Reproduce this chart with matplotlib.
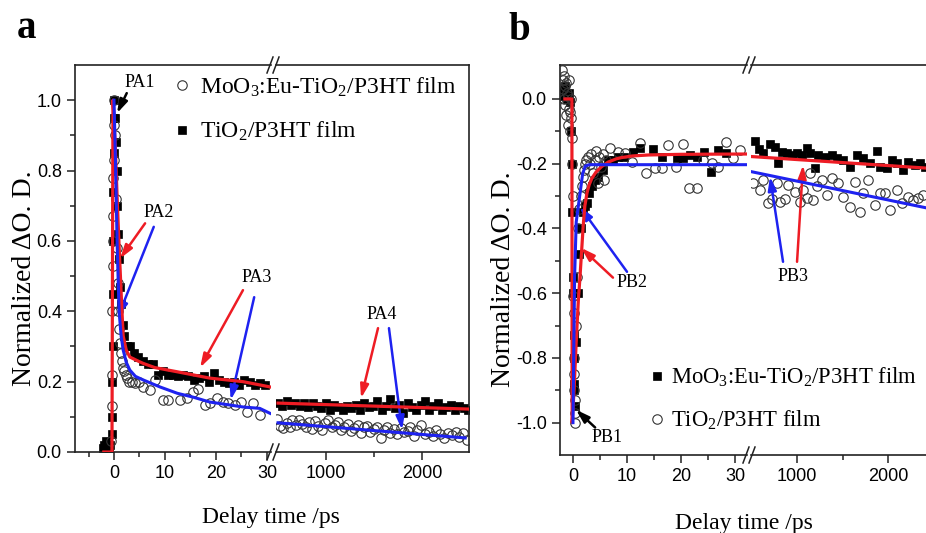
import matplotlib
matplotlib.use("Agg")
import matplotlib.pyplot as plt
from matplotlib.lines import Line2D

plt.rcParams['font.family'] = 'Liberation Serif'
plt.rcParams['mathtext.fontset'] = 'custom'
plt.rcParams['mathtext.rm'] = 'Liberation Serif'
plt.rcParams['mathtext.default'] = 'regular'

# ---------------- panel a data ----------------
# short delay window (ps)
A_SQ_T = [-2.2, -1.9, -1.6, -1.3, -1.0, -0.7, -0.4, -0.35, -0.3, -0.25, -0.2, -0.15, -0.1,
          -0.05, 0.0, 0.05, 0.2, 0.35, 0.5, 0.65, 0.8, 1.0, 1.2, 1.4, 1.7, 2.0, 2.5, 3.1,
          4.0, 4.7, 5.7, 6.7, 7.6, 8.6, 9.6, 10.6, 11.6, 12.6, 13.6, 14.6, 15.6, 16.6,
          17.6, 18.6, 19.6, 20.6, 21.6, 22.6, 23.6, 24.6, 25.6, 26.6, 27.6, 28.6, 29.6]
A_SQ_Y = [0.01, 0.02, 0.03, 0.02, 0.01, 0.02, 0.05, 0.1, 0.2, 0.3, 0.45, 0.6, 0.74,
          0.85, 0.95, 1.0, 0.95, 0.88, 0.8, 0.7, 0.62, 0.55, 0.47, 0.42, 0.36, 0.33, 0.3, 0.3,
          0.28, 0.27, 0.26, 0.25, 0.25, 0.22, 0.23, 0.22, 0.22, 0.215, 0.22, 0.215, 0.205, 0.21,
          0.215, 0.2, 0.225, 0.205, 0.2, 0.195, 0.2, 0.19, 0.205, 0.2, 0.19, 0.195, 0.19]
A_CIR_T = [-0.5, -0.45, -0.4, -0.3, -0.25, -0.2, -0.15, -0.1, -0.05, 0.0, 0.05, 0.25, 0.4,
           0.55, 0.7, 0.85, 1.0, 1.2, 1.4, 1.6, 1.8, 2.0, 2.3, 2.6, 3.0, 3.5, 4.2, 5.0, 5.7,
           7.1, 8.0, 9.6, 10.6, 12.9, 14.3, 15.5, 16.5, 17.8, 18.8, 20.2, 21.4, 22.4, 23.7,
           25.0, 26.0, 27.3, 28.6]
A_CIR_Y = [0.03, 0.13, 0.22, 0.4, 0.53, 0.6, 0.67, 0.78, 0.83, 0.93, 1.0, 0.9, 0.72,
           0.58, 0.48, 0.4, 0.35, 0.31, 0.28, 0.26, 0.24, 0.23, 0.22, 0.21, 0.2, 0.2, 0.195, 0.2,
           0.185, 0.176, 0.205, 0.148, 0.148, 0.148, 0.153, 0.17, 0.18, 0.134, 0.139, 0.153,
           0.142, 0.139, 0.134, 0.142, 0.113, 0.139, 0.105]
A_RED_T = [-2.0, -0.4, -0.3, -0.2, 0.0, 0.3, 0.6, 0.9, 1.2, 1.5, 1.8, 2.4, 3.1, 4.5, 5.7,
           8.0, 12.4, 18.8, 25.3, 30.6]
A_RED_Y = [0.0, 0.0, 0.5, 1.0, 0.95, 0.85, 0.73, 0.62, 0.52, 0.42, 0.33, 0.29, 0.27, 0.26,
           0.252, 0.24, 0.228, 0.21, 0.2, 0.185]
A_BLUE_T = [0.0, 0.3, 0.6, 1.0, 1.4, 1.8, 2.4, 3.1, 4.2, 5.7, 9.0, 12.4, 15.5, 18.8, 25.3,
            28.6, 30.6]
A_BLUE_Y = [1.0, 0.82, 0.6, 0.4, 0.33, 0.29, 0.255, 0.233, 0.215, 0.205, 0.185, 0.167, 0.156,
            0.142, 0.128, 0.124, 0.11]
# long delay window (ps)
A_R_SQ_T = [500, 545, 590, 635, 680, 725, 770, 815, 860, 905, 950, 995, 1040, 1085, 1130,
            1175, 1220, 1265, 1310, 1355, 1400, 1445, 1490, 1535, 1580, 1625, 1670, 1715,
            1760, 1805, 1850, 1895, 1940, 1985, 2030, 2075, 2120, 2165, 2210, 2255, 2300,
            2345, 2390, 2435, 2480]
A_R_SQ_Y = [0.14, 0.13, 0.145, 0.135, 0.14, 0.13, 0.138, 0.128, 0.14, 0.132, 0.125, 0.138,
            0.12, 0.135, 0.128, 0.118, 0.13, 0.125, 0.135, 0.12, 0.14, 0.128, 0.132, 0.145,
            0.118, 0.13, 0.15, 0.125, 0.135, 0.112, 0.14, 0.128, 0.12, 0.135, 0.145, 0.118,
            0.13, 0.14, 0.12, 0.128, 0.135, 0.118, 0.13, 0.125, 0.12]
A_R_CIR_T = [490, 520, 555, 590, 620, 650, 690, 720, 750, 790, 820, 850, 890, 920, 960, 990,
             1020, 1060, 1090, 1120, 1160, 1190, 1230, 1260, 1290, 1330, 1360, 1400, 1430,
             1460, 1500, 1530, 1570, 1600, 1640, 1670, 1710, 1740, 1780, 1810, 1850, 1880,
             1920, 1950, 1990, 2030, 2070, 2110, 2150, 2190, 2230, 2270, 2310, 2350, 2390,
             2430, 2470]
A_R_CIR_Y = [0.095, 0.075, 0.068, 0.082, 0.07, 0.09, 0.078, 0.092, 0.08, 0.072, 0.085, 0.066,
             0.088, 0.075, 0.062, 0.082, 0.09, 0.07, 0.078, 0.085, 0.062, 0.072, 0.08, 0.06,
             0.068, 0.078, 0.055, 0.07, 0.075, 0.058, 0.065, 0.072, 0.04, 0.062, 0.07, 0.055,
             0.065, 0.05, 0.068, 0.058, 0.06, 0.072, 0.045, 0.062, 0.078, 0.05, 0.058, 0.045,
             0.062, 0.05, 0.04, 0.055, 0.048, 0.058, 0.042, 0.055, 0.035]
A_R_RED_T = [500, 2490]
A_R_RED_Y = [0.139, 0.122]
A_R_BLUE_T = [500, 2450]
A_R_BLUE_Y = [0.083, 0.04]

# ---------------- panel b data ----------------
B_SQ_T = [-2.0, -1.7, -1.4, -1.1, -0.8, -0.5, -0.3, -0.2, -0.1, 0.0, 0.05, 0.1, 0.15, 0.2,
          0.25, 0.3, 0.6, 0.9, 1.2, 1.5, 1.9, 2.2, 2.6, 3.0, 3.5, 4.0, 4.6, 5.6, 6.5, 7.4,
          8.3, 9.5, 11.1, 12.4, 14.8, 16.4, 19.2, 20.3, 21.7, 22.9, 24.2, 25.6, 26.9, 28.3]
B_SQ_Y = [0.03, 0.01, 0.04, 0.0, 0.02, -0.01, -0.1, -0.2, -0.35, -0.55, -0.6, -0.73, -0.8,
          -0.88, -0.9, -0.95, -0.75, -0.6, -0.48, -0.4, -0.35, -0.33, -0.32, -0.29, -0.27,
          -0.25, -0.24, -0.22, -0.19, -0.188, -0.18, -0.18, -0.164, -0.151, -0.154, -0.178,
          -0.183, -0.183, -0.173, -0.178, -0.163, -0.225, -0.157, -0.166]
B_CIR_T = [-2.0, -1.9, -1.8, -1.7, -1.6, -1.5, -1.4, -1.3, -1.2, -1.1, -1.0, -0.9, -0.8, -0.7,
           -0.6, -0.5, -0.4, -0.3, -0.2, -0.1, 0.0, 0.05, 0.1, 0.15, 0.2, 0.25, 0.3, 0.35, 0.4,
           0.6, 0.8, 1.0, 1.2, 1.4, 1.6, 1.8, 2.0, 2.2, 2.5, 2.8, 3.1, 3.4, 3.7, 4.0, 4.3, 4.6,
           4.9, 5.2, 5.5, 5.8, 6.2, 6.9, 8.4, 9.6, 10.9, 12.4, 13.6, 15.2, 16.4, 17.6, 19.0,
           20.3, 21.5, 22.9, 24.1, 25.7, 26.9, 28.3, 29.7, 30.9]
B_CIR_Y = [0.09, 0.06, 0.03, 0.07, 0.0, 0.04, -0.02, 0.05, -0.05, 0.02, -0.08, 0.01, -0.03,
           0.06, -0.1, -0.04, 0.0, -0.06, -0.12, -0.2, -0.3, -0.61, -0.66, -0.8, -0.85, -0.9,
           -0.93, -0.97, -1.0, -0.7, -0.55, -0.4, -0.34, -0.3, -0.27, -0.24, -0.22, -0.2,
           -0.19, -0.18, -0.2, -0.17, -0.23, -0.19, -0.16, -0.26, -0.18, -0.21, -0.17, -0.25,
           -0.19, -0.152, -0.163, -0.167, -0.194, -0.136, -0.229, -0.213, -0.213, -0.142,
           -0.21, -0.139, -0.275, -0.275, -0.188, -0.198, -0.21, -0.133, -0.182, -0.157]
B_RED_T = [-1.5, -0.2, -0.15, 0.2, 0.6, 1.0, 1.3, 1.6, 1.9, 2.2, 2.6, 3.0, 3.5, 4.3, 5.3,
           6.5, 8.0, 9.0, 11.0, 14.0, 20.0, 32.0]
B_RED_Y = [0.0, 0.0, -1.0, -0.9, -0.75, -0.62, -0.55, -0.47, -0.39, -0.33, -0.29, -0.265,
           -0.245, -0.225, -0.209, -0.195, -0.185, -0.181, -0.176, -0.173, -0.171, -0.17]
B_BLUE_T = [0.0, 0.3, 0.6, 1.0, 1.4, 1.8, 2.3, 3.0, 32.0]
B_BLUE_Y = [-1.0, -0.55, -0.38, -0.33, -0.28, -0.23, -0.207, -0.203, -0.203]
B_R_SQ_T = [538, 582, 626, 703, 758, 791, 835, 890, 945, 1000, 1055, 1110, 1143, 1198,
            1231, 1308, 1385, 1440, 1505, 1582, 1659, 1725, 1802, 1879, 1912, 1989, 2044,
            2099, 2165, 2220, 2297, 2352, 2407]
B_R_SQ_Y = [-0.13, -0.155, -0.167, -0.139, -0.148, -0.197, -0.163, -0.167, -0.173, -0.167,
            -0.173, -0.151, -0.167, -0.213, -0.173, -0.179, -0.173, -0.182, -0.188, -0.21,
            -0.173, -0.182, -0.198, -0.16, -0.21, -0.213, -0.188, -0.198, -0.219, -0.194,
            -0.204, -0.198, -0.21]
B_R_CIR_T = [517, 593, 626, 681, 725, 780, 813, 868, 901, 978, 1033, 1066, 1110, 1143, 1176,
             1220, 1275, 1330, 1385, 1451, 1505, 1582, 1637, 1692, 1725, 1780, 1857, 1912,
             1967, 2022, 2099, 2154, 2220, 2275, 2330, 2385]
B_R_CIR_Y = [-0.26, -0.28, -0.25, -0.32, -0.31, -0.26, -0.318, -0.31, -0.265, -0.287, -0.318,
             -0.281, -0.305, -0.228, -0.312, -0.27, -0.25, -0.296, -0.244, -0.26, -0.302,
             -0.333, -0.256, -0.349, -0.29, -0.25, -0.327, -0.29, -0.29, -0.343, -0.281,
             -0.321, -0.302, -0.312, -0.306, -0.296]
B_R_RED_T = [505, 2500]
B_R_RED_Y = [-0.178, -0.215]
B_R_BLUE_T = [505, 2500]
B_R_BLUE_Y = [-0.225, -0.341]

LBL_MOO = 'MoO$_3$:Eu-TiO$_2$/P3HT film'
LBL_TIO = 'TiO$_2$/P3HT film'

W, H = 926, 533
fig = plt.figure(figsize=(W / 100, H / 100), dpi=100)


def px_axes(x0, x1, y0, y1):
    return fig.add_axes([x0 / W, 1 - y1 / H, (x1 - x0) / W, (y1 - y0) / H])


RED = '#ee1c24'
BLUE = '#1e22f0'
AXC = '#222222'


def style(ax, left):
    for s in ax.spines.values():
        s.set_color(AXC)
        s.set_linewidth(1.2)
    ax.tick_params(which='both', direction='out', color=AXC, width=1.1, labelsize=13,
                   labelfontfamily='Liberation Sans', top=False, right=False)
    ax.tick_params(which='major', length=6)
    ax.tick_params(which='minor', length=3.5)
    if left:
        ax.spines['right'].set_visible(False)
    else:
        ax.spines['left'].set_visible(False)
        ax.tick_params(axis='y', which='both', left=False, labelleft=False)


def draw_points(ax, sq_t, sq_y, cir_t, cir_y):
    sq, = ax.plot(sq_t, sq_y, 's', color='black', ms=5.2, mec='black', mew=0.5, zorder=2)
    ci, = ax.plot(cir_t, cir_y, 'o', mfc='none', mec='#333333', ms=6.8, mew=0.8, zorder=3)
    return sq, ci


def break_marks(xpx, ytop, ybot):
    for yy in (ytop, ybot):
        for dx in (-3, 3):
            fig.add_artist(Line2D([(xpx + dx - 3) / W, (xpx + dx + 3) / W],
                                  [1 - (yy + 8) / H, 1 - (yy - 8) / H],
                                  color=AXC, lw=1.1, transform=fig.transFigure))


def arrow(ax, tail, head, color):
    ax.annotate('', xy=head, xytext=tail, annotation_clip=False,
                arrowprops=dict(arrowstyle='-|>,head_length=0.8,head_width=0.25',
                                color=color, lw=1.8, shrinkA=0, shrinkB=0))


# ================= panel a =================
axL = px_axes(75, 271, 65, 452)
axR = px_axes(276, 469, 65, 452)
for ax, left in ((axL, True), (axR, False)):
    style(ax, left)
    ax.set_ylim(0, 1.1)
axL.set_xlim(-7.65, 30.8)
axR.set_xlim(479, 2490)
axL.set_xticks([0, 10, 20, 30])
axL.set_xticks([-5, 5, 15, 25], minor=True)
axR.set_xticks([1000, 2000])
axR.set_xticks([1500], minor=True)
axL.set_yticks([0.0, 0.2, 0.4, 0.6, 0.8, 1.0])
axL.set_yticks([0.1, 0.3, 0.5, 0.7, 0.9], minor=True)
axL.set_yticklabels(['0.0', '0.2', '0.4', '0.6', '0.8', '1.0'])

sqa, cia = draw_points(axL, A_SQ_T, A_SQ_Y, A_CIR_T, A_CIR_Y)
draw_points(axR, A_R_SQ_T, A_R_SQ_Y, A_R_CIR_T, A_R_CIR_Y)
axL.plot(A_RED_T, A_RED_Y, color=RED, lw=2.3, zorder=4)
axL.plot(A_BLUE_T, A_BLUE_Y, color=BLUE, lw=2.2, zorder=4)
axR.plot(A_R_RED_T, A_R_RED_Y, color=RED, lw=2.3, zorder=4)
axR.plot(A_R_BLUE_T, A_R_BLUE_Y, color=BLUE, lw=2.2, zorder=4)

axL.text(5.1, 1.05, 'PA1', fontsize=13, ha='center', va='center')
arrow(axL, (2.5, 1.02), (0.6, 0.963), 'black')
axL.text(8.8, 0.68, 'PA2', fontsize=13, ha='center', va='center')
arrow(axL, (6.1, 0.65), (1.2, 0.55), RED)
arrow(axL, (7.8, 0.64), (0.8, 0.385), BLUE)
axL.text(28, 0.495, 'PA3', fontsize=13, ha='center', va='center')
arrow(axL, (25.3, 0.46), (16.9, 0.24), RED)
arrow(axL, (27.5, 0.44), (22.9, 0.148), BLUE)
axR.text(1583, 0.39, 'PA4', fontsize=13, ha='center', va='center')
arrow(axR, (1542, 0.352), (1365, 0.153), RED)
arrow(axR, (1656, 0.352), (1792, 0.063), BLUE)

fig.legend([cia, sqa], [LBL_MOO, LBL_TIO], loc='upper left',
           bbox_to_anchor=(161 / W, 1 - 66 / H), frameon=False, fontsize=17,
           handlelength=1.0, handletextpad=0.25, labelspacing=0.9, borderaxespad=0)
break_marks(273, 65, 452)
fig.text(25 / W, 1 - 278 / H, 'Normalized \u0394O. D.', rotation=90, fontsize=20,
         ha='center', va='center')
fig.text(271 / W, 1 - 517 / H, 'Delay time /ps', fontsize=17, ha='center', va='center')
fig.text(27 / W, 1 - 28 / H, 'a', fontsize=28, fontweight='bold', ha='center', va='center')

# ================= panel b =================
bxL = px_axes(560, 747, 65, 455)
bxR = px_axes(751, 935, 65, 455)
for ax, left in ((bxL, True), (bxR, False)):
    style(ax, left)
    ax.set_ylim(-1.1, 0.105)
bxL.set_xlim(-2.4, 32.2)
bxR.set_xlim(494, 2516)
bxL.set_xticks([0, 10, 20, 30])
bxL.set_xticks([5, 15, 25], minor=True)
bxR.set_xticks([1000, 2000])
bxR.set_xticks([1500], minor=True)
bxL.set_yticks([-1.0, -0.8, -0.6, -0.4, -0.2, 0.0])
bxL.set_yticks([-0.9, -0.7, -0.5, -0.3, -0.1], minor=True)
bxL.set_yticklabels(['-1.0', '-0.8', '-0.6', '-0.4', '-0.2', '0.0'])

sqb, cib = draw_points(bxL, B_SQ_T, B_SQ_Y, B_CIR_T, B_CIR_Y)
draw_points(bxR, B_R_SQ_T, B_R_SQ_Y, B_R_CIR_T, B_R_CIR_Y)
bxL.plot(B_RED_T, B_RED_Y, color=RED, lw=2.3, zorder=4)
bxL.plot(B_BLUE_T, B_BLUE_Y, color=BLUE, lw=2.2, zorder=4)
bxR.plot(B_R_RED_T, B_R_RED_Y, color=RED, lw=2.3, zorder=4)
bxR.plot(B_R_BLUE_T, B_R_BLUE_Y, color=BLUE, lw=2.2, zorder=4)

bxL.text(6.3, -1.046, 'PB1', fontsize=13, ha='center', va='center')
arrow(bxL, (4.1, -1.015), (0.55, -0.96), 'black')
bxL.text(10.9, -0.568, 'PB2', fontsize=13, ha='center', va='center')
arrow(bxL, (7.4, -0.552), (1.5, -0.46), RED)
arrow(bxL, (10.0, -0.534), (1.3, -0.333), BLUE)
bxR.text(956, -0.549, 'PB3', fontsize=13, ha='center', va='center')
arrow(bxR, (846, -0.503), (703, -0.24), BLUE)
arrow(bxR, (1000, -0.503), (1066, -0.204), RED)

fig.legend([sqb, cib], [LBL_MOO, LBL_TIO], loc='upper left',
           bbox_to_anchor=(637 / W, 1 - 357 / H), frameon=False, fontsize=16.3,
           handlelength=1.0, handletextpad=0.08, labelspacing=0.85, borderaxespad=0)
break_marks(749, 65, 455)
fig.text(503 / W, 1 - 279 / H, 'Normalized \u0394O. D.', rotation=90, fontsize=20,
         ha='center', va='center')
fig.text(744 / W, 1 - 523 / H, 'Delay time /ps', fontsize=17, ha='center', va='center')
fig.text(519 / W, 1 - 30 / H, 'b', fontsize=28, fontweight='bold', ha='center', va='center')

fig.savefig('out.png', dpi=100, facecolor='white')
